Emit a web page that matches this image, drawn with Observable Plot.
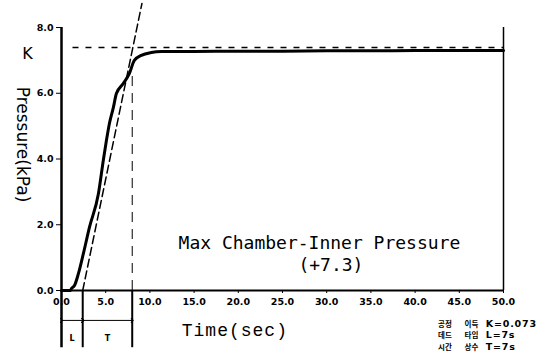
<!DOCTYPE html>
<html><head><meta charset="utf-8">
<script src="https://cdn.jsdelivr.net/npm/d3@7"></script>
<script src="https://cdn.jsdelivr.net/npm/@observablehq/plot@0.6"></script>
<style>html,body{margin:0;padding:0;background:#fff} #chart svg{display:block}</style>
</head><body><div id="chart"></div>
<script>
// measured response curve
const time =     [0, 1.0, 1.13, 1.47, 1.92, 2.48, 3.16, 4.18, 4.74, 5.08, 5.42, 5.87, 6.21, 7.0, 7.67, 8.24, 9.03, 10.16, 11.3, 15, 20, 25, 30, 35, 40, 45, 50];
const pressure = [0, 0,   0.06, 0.15, 0.52, 1.13, 1.92, 2.95, 3.98, 4.56, 5.08, 5.57, 5.99, 6.3, 6.6, 7.0, 7.15, 7.24, 7.27, 7.27, 7.28, 7.28, 7.29, 7.29, 7.3, 7.3, 7.3];
// model parameters
const kLevel = 7.39;      // K line
const deadTime = 2.4;     // end of L
const tauEnd = 8.0;       // end of T (L + T)
const tangentTime = [2.4, 9.1];
const tangentValue = [0, 8.73];
const xTicks = [0, 5, 10, 15, 20, 25, 30, 35, 40, 45, 50];
const yTicks = [0, 2, 4, 6, 8];
const koCol1 = ["공정", "데드", "시간"];
const koCol2 = ["이득", "타임", "상수"];
const paramText = ["K=0.073", "L=7s", "T=7s"];
const rowY = [-1.125, -1.46, -1.795];

const curve = time.map((t, i) => ({t, p: pressure[i]}));
const tangent = tangentTime.map((t, i) => ({t, p: tangentValue[i]}));
const rows = paramText.map((s, i) => ({a: koCol1[i], b: koCol2[i], s, y: rowY[i]}));

const plot = Plot.plot({
  width: 539, height: 360,
  marginLeft: 61, marginRight: 36, marginTop: 27, marginBottom: 70,
  style: {fontFamily: "DejaVu Sans", fontSize: "9.5px", fontWeight: "bold", color: "#000", background: "#fff", overflow: "visible"},
  x: {domain: [0, 50], axis: null},
  y: {domain: [0, 8], axis: null},
  marks: [
    Plot.axisY(yTicks, {tickFormat: d3.format(".1f"), tickSize: 5, tickPadding: 3, label: null, fontWeight: "bold"}),
    Plot.axisX(xTicks, {tickFormat: d3.format(".1f"), tickSize: 3, tickPadding: 5, label: null, fontWeight: "bold"}),
    Plot.ruleY([0], {x1: 0, x2: 50, strokeWidth: 2}),
    Plot.ruleX([0], {y1: -1.74, y2: 8, strokeWidth: 2.5}),
    Plot.ruleX([50], {y1: 0, y2: 8, strokeWidth: 1.5}),
    Plot.ruleX([deadTime, tauEnd], {y1: -1.74, y2: 0, strokeWidth: 2}),
    Plot.ruleX([tauEnd], {y1: 0, y2: 6.6, strokeWidth: 1, strokeDasharray: "10,7"}),
    Plot.ruleY([kLevel], {x1: 1.3, x2: 50, strokeWidth: 1.5, strokeDasharray: "6,7"}),
    Plot.line(tangent, {x: "t", y: "p", strokeWidth: 1.5, strokeDasharray: "8,4"}),
    Plot.line(curve, {x: "t", y: "p", strokeWidth: 3, curve: "monotone-x"}),
    Plot.link([{a: 0, b: deadTime}, {a: deadTime, b: tauEnd}], {x1: "a", x2: "b", y1: -0.91, y2: -0.91, strokeWidth: 1, markerStart: "arrow", markerEnd: "arrow"}),
    Plot.text(["L"], {x: deadTime / 2, y: -1.46, fontSize: 8, fontWeight: "bold", fontFamily: "DejaVu Sans"}),
    Plot.text(["T"], {x: (deadTime + tauEnd) / 2, y: -1.46, fontSize: 8, fontWeight: "bold", fontFamily: "DejaVu Sans"}),
    Plot.text(["K"], {x: -3.85, y: kLevel, lineAnchor: "top", fontSize: 16, fontWeight: "normal", fontFamily: "DejaVu Sans"}),
    Plot.text(["Pressure(kPa)"], {x: -4.98, y: 4.44, rotate: 90, lineAnchor: "bottom", fontSize: 17, fontWeight: "normal", fontFamily: "DejaVu Sans"}),
    Plot.text(["Time(sec)"], {x: 13.6, y: -1.37, textAnchor: "start", lineAnchor: "bottom", fontSize: 18, fontWeight: "normal", fontFamily: "Liberation Mono"}),
    Plot.text(["Max Chamber-Inner Pressure"], {x: 13.24, y: 1.25, textAnchor: "start", lineAnchor: "bottom", fontSize: 18, fontWeight: "normal", fontFamily: "DejaVu Sans Mono"}),
    Plot.text(["(+7.3)"], {x: 26.8, y: 0.58, textAnchor: "start", lineAnchor: "bottom", fontSize: 18, fontWeight: "normal", fontFamily: "DejaVu Sans Mono"}),
    Plot.text(rows, {x: 42.6, y: "y", text: "a", textAnchor: "start", lineAnchor: "bottom", fontSize: 7.5, fontWeight: "bold", fontFamily: "Noto Sans CJK KR"}),
    Plot.text(rows, {x: 45.6, y: "y", text: "b", textAnchor: "start", lineAnchor: "bottom", fontSize: 7.5, fontWeight: "bold", fontFamily: "Noto Sans CJK KR"}),
    Plot.text(rows, {x: 48.0, y: "y", text: "s", textAnchor: "start", lineAnchor: "bottom", fontSize: 9.5, fontWeight: "bold", fontFamily: "DejaVu Sans"})
  ]
});
const svg = d3.select(plot);
svg.selectAll("text").filter(function () { return this.textContent === "Time(sec)"; }).attr("letter-spacing", "1px");
svg.selectAll("text").filter(function () { return paramText.includes(this.textContent); }).attr("letter-spacing", "0.8px");
document.getElementById("chart").appendChild(plot);
</script>
</body></html>
